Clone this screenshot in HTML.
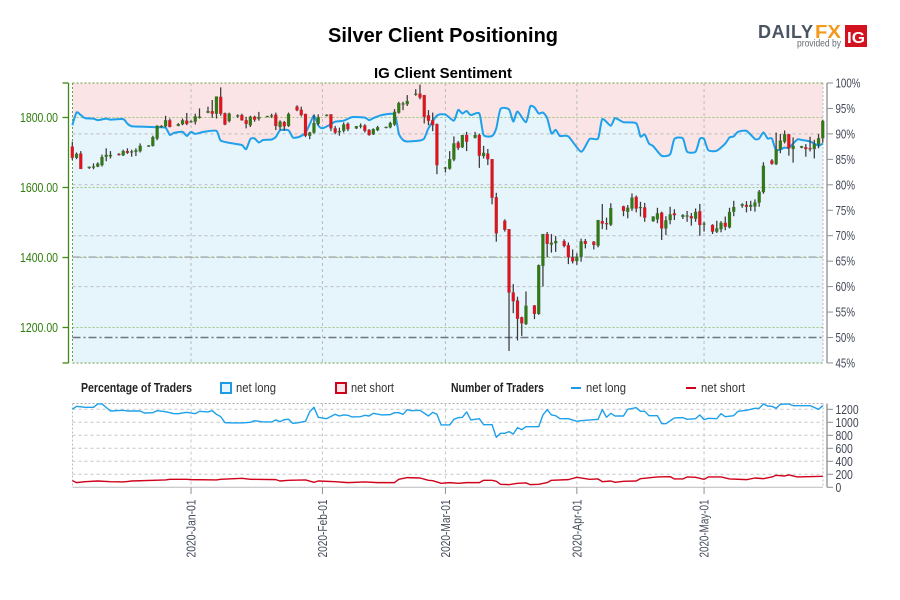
<!DOCTYPE html>
<html lang="en">
<head>
<meta charset="utf-8">
<title>Silver Client Positioning</title>
<style>
html,body{margin:0;padding:0;background:#fff;}
svg{display:block;font-family:"Liberation Sans",sans-serif;}
</style>
</head>
<body>
<svg id="chart" xmlns="http://www.w3.org/2000/svg" width="900" height="600" viewBox="0 0 900 600">
  <rect x="0" y="0" width="900" height="600" fill="#ffffff"/>
  <text x="328" y="42" font-size="20" font-weight="bold" fill="#000" textLength="230" lengthAdjust="spacingAndGlyphs">Silver Client Positioning</text>
  <text x="374" y="78" font-size="15" font-weight="bold" fill="#000" textLength="138" lengthAdjust="spacingAndGlyphs">IG Client Sentiment</text>

  <g>
    <text x="758" y="38" font-size="18" font-weight="bold" fill="#4a5361" textLength="55" lengthAdjust="spacing">DAILY</text>
    <text x="815" y="38" font-size="18" font-weight="bold" fill="#f39a1e" textLength="26" lengthAdjust="spacingAndGlyphs">FX</text>
    <text x="797" y="46.5" font-size="10" fill="#666c75" textLength="44" lengthAdjust="spacingAndGlyphs">provided by</text>
    <rect x="845" y="25" width="22" height="22" fill="#d2121e"/>
    <text x="847" y="43" font-size="16" font-weight="bold" fill="#fff" textLength="18" lengthAdjust="spacingAndGlyphs">IG</text>
  </g>

  <g id="pricePanel"></g>
  <g id="countPanel"></g>

  <g>
    <text x="81" y="392" font-size="13" font-weight="bold" fill="#222" textLength="111" lengthAdjust="spacingAndGlyphs">Percentage of Traders</text>
    <rect x="221" y="383" width="10" height="10" fill="#e6f4fc" stroke="#1c9ce6" stroke-width="2"/>
    <text x="236" y="392" font-size="13" fill="#333" textLength="40" lengthAdjust="spacingAndGlyphs">net long</text>
    <rect x="336" y="383" width="10" height="10" fill="#f8e6e8" stroke="#d0021b" stroke-width="2"/>
    <text x="351" y="392" font-size="13" fill="#333" textLength="43" lengthAdjust="spacingAndGlyphs">net short</text>
    <text x="451" y="392" font-size="13" font-weight="bold" fill="#222" textLength="93" lengthAdjust="spacingAndGlyphs">Number of Traders</text>
    <line x1="571" y1="388" x2="581" y2="388" stroke="#1c9ce6" stroke-width="2"/>
    <text x="586" y="392" font-size="13" fill="#333" textLength="40" lengthAdjust="spacingAndGlyphs">net long</text>
    <line x1="686" y1="388" x2="696" y2="388" stroke="#d0021b" stroke-width="2"/>
    <text x="701" y="392" font-size="13" fill="#333" textLength="44" lengthAdjust="spacingAndGlyphs">net short</text>
  </g>
</svg>

<script>
// ---- Data (day index 0 = 2019-12-04) ----
const candleDays = [0,1,2,4,5,6,7,8,9,11,12,13,14,15,16,18,19,20,21,22,23,25,26,27,28,29,30,32,33,34,35,36,37,39,40,41,42,43,44,46,47,48,49,50,51,53,54,55,56,57,58,60,61,62,63,64,65,67,68,69,70,71,72,74,75,76,77,78,79,81,82,83,84,85,86,88,89,90,91,92,93,95,96,97,98,99,100,102,103,104,105,106,107,109,110,111,112,113,114,116,117,118,119,120,121,123,124,125,126,127,130,131,132,133,134,135,137,138,139,140,141,142,144,145,146,147,148,149,151,152,153,154,155,156,158,159,160,161,162,163,165,166,167,168,169,170,172,173,174,175,176,177];
const openPrices = [1717,1685,1697,1656,1658,1660,1664,1688,1689,1696,1692,1704,1701,1702,1704,1717,1719,1740,1773,1775,1792,1776,1781,1791,1787,1788,1800,1814,1818,1811,1859,1812,1790,1804,1807,1792,1778,1802,1797,1802,1804,1808,1773,1787,1776,1831,1822,1810,1748,1757,1782,1805,1809,1769,1758,1762,1782,1769,1775,1777,1764,1752,1764,1771,1772,1780,1814,1838,1838,1867,1868,1864,1806,1792,1781,1655,1654,1680,1728,1715,1750,1742,1750,1690,1697,1681,1572,1505,1481,1300,1277,1229,1210,1263,1239,1376,1467,1437,1441,1447,1435,1401,1390,1402,1447,1445,1434,1504,1498,1494,1546,1531,1540,1573,1542,1543,1504,1509,1528,1483,1507,1526,1516,1518,1518,1511,1532,1495,1493,1474,1481,1499,1486,1531,1548,1550,1545,1546,1557,1587,1677,1667,1709,1731,1752,1710,1714,1715,1712,1710,1723,1741];
const closePrices = [1685,1696,1653,1659,1660,1668,1687,1693,1693,1693,1704,1699,1703,1706,1719,1720,1744,1776,1776,1792,1773,1781,1792,1782,1789,1803,1802,1818,1811,1860,1811,1780,1811,1806,1792,1782,1802,1794,1801,1804,1806,1776,1788,1775,1810,1821,1807,1748,1757,1784,1801,1808,1769,1757,1761,1780,1767,1775,1777,1762,1750,1767,1772,1773,1784,1816,1841,1840,1847,1868,1857,1802,1791,1778,1664,1657,1681,1726,1713,1750,1731,1750,1691,1699,1681,1571,1469,1479,1300,1275,1225,1212,1262,1239,1378,1467,1439,1442,1447,1433,1401,1389,1402,1446,1439,1436,1507,1497,1495,1541,1533,1542,1571,1540,1544,1514,1517,1526,1483,1506,1523,1521,1521,1520,1512,1530,1493,1497,1474,1483,1499,1488,1530,1544,1552,1545,1550,1557,1588,1662,1668,1709,1734,1752,1712,1719,1718,1710,1710,1724,1741,1790];
const highPrices = [1731,1700,1704,1660,1669,1672,1694,1712,1704,1698,1708,1712,1708,1712,1726,1721,1748,1778,1778,1805,1797,1784,1797,1813,1792,1811,1826,1831,1850,1860,1886,1814,1814,1809,1811,1802,1805,1805,1816,1805,1811,1814,1792,1790,1814,1835,1831,1811,1759,1809,1809,1809,1809,1776,1771,1786,1786,1776,1783,1781,1767,1769,1776,1774,1788,1824,1845,1845,1864,1881,1894,1864,1821,1814,1783,1659,1704,1746,1733,1750,1759,1759,1754,1719,1710,1681,1585,1509,1481,1324,1288,1231,1303,1264,1380,1467,1473,1467,1461,1452,1443,1423,1412,1454,1453,1447,1507,1553,1514,1555,1548,1550,1583,1577,1559,1556,1518,1542,1531,1518,1545,1538,1524,1533,1527,1540,1553,1502,1495,1505,1504,1517,1542,1562,1555,1561,1562,1566,1593,1672,1681,1757,1753,1763,1753,1743,1719,1724,1745,1736,1753,1793];
const lowPrices = [1678,1681,1653,1653,1652,1658,1660,1675,1683,1691,1690,1696,1688,1690,1700,1716,1717,1735,1771,1772,1772,1775,1778,1778,1785,1780,1797,1812,1799,1797,1805,1778,1786,1799,1791,1769,1773,1788,1791,1801,1799,1764,1764,1762,1773,1818,1803,1744,1738,1754,1778,1803,1761,1752,1748,1757,1761,1767,1769,1757,1748,1750,1761,1769,1769,1776,1811,1821,1833,1862,1852,1783,1778,1761,1638,1643,1651,1675,1707,1713,1704,1740,1656,1683,1664,1552,1445,1474,1133,1241,1163,1176,1207,1224,1236,1317,1401,1414,1416,1429,1381,1383,1379,1388,1426,1423,1429,1481,1479,1490,1518,1512,1533,1529,1517,1502,1502,1498,1450,1464,1495,1507,1510,1502,1491,1502,1462,1474,1467,1470,1472,1478,1483,1518,1542,1529,1533,1531,1545,1582,1665,1664,1698,1726,1691,1671,1712,1688,1703,1683,1712,1728];

const sentimentDays = [0,1,2,3,5,6,8,9,12,13,14,17,20,22,23,24,26,27,28,29,31,34,35,38,40,41,42,43,44,45,47,48,49,51,52,53,54,55,56,57,58,59,61,62,64,66,69,70,71,73,76,77,78,79,82,83,84,86,88,90,91,92,93,94,96,97,99,100,101,103,104,105,107,108,109,110,111,112,113,114,115,117,120,122,124,125,127,128,130,133,134,135,136,137,139,141,142,144,145,147,148,149,150,152,154,155,156,157,159,161,162,163,164,165,166,168,169,171,172,174,176,177];
const sentimentLongPct = [91.7,94.2,93.7,93.1,93.0,92.7,93.0,92.8,92.9,92.0,91.5,91.4,91.3,91.2,89.8,90.2,90.4,89.6,90.4,90.0,90.4,90.6,88.7,88.1,87.8,87.0,89.0,89.1,88.3,88.8,88.9,89.4,90.7,90.7,89.3,89.3,89.6,90.2,91.9,93.6,91.7,91.1,91.9,92.4,92.6,93.3,93.2,92.7,93.1,93.7,93.8,90.1,88.8,88.5,88.7,89.1,91.1,93.6,93.8,92.6,94.7,94.0,94.5,93.7,94.0,89.8,89.6,91.1,94.9,94.8,92.4,94.4,92.3,95.4,95.2,94.0,94.2,93.1,90.1,90.8,89.6,89.5,86.5,89.0,89.1,92.9,91.6,93.1,92.3,92.1,89.5,89.9,88.1,87.6,85.7,86.0,89.0,89.1,86.5,86.5,89.0,89.0,86.8,86.7,88.1,89.3,89.5,90.4,90.6,89.0,89.1,90.3,89.1,89.1,86.8,87.3,87.3,88.9,88.8,88.5,87.7,88.1];

const longCountDays = [0,1,3,5,6,7,9,12,13,16,17,19,20,22,24,25,27,29,30,32,33,34,35,36,38,40,42,43,45,47,48,49,50,51,52,53,55,56,57,58,60,62,63,64,65,66,68,69,70,71,73,75,76,77,78,79,80,82,84,85,86,87,89,90,91,92,93,94,96,97,99,100,101,102,103,104,105,106,107,110,111,112,113,114,115,117,119,120,124,125,126,127,128,130,131,133,134,135,136,138,139,140,142,144,145,147,148,149,150,152,153,154,156,157,159,161,162,163,164,165,166,167,169,170,174,176,177];
const longCounts = [1200,1246,1231,1231,1282,1282,1174,1184,1174,1174,1143,1148,1179,1164,1133,1133,1154,1133,1169,1159,1179,1123,1087,995,990,990,1000,1025,1005,1005,1036,1010,1041,1046,984,990,1015,1164,1231,1077,1056,1123,1097,1113,1108,1082,1087,1108,1097,1138,1113,1118,1148,1148,1123,1195,1179,1184,1097,1154,1123,959,959,1046,1072,1077,1159,1036,1056,964,964,769,831,831,856,820,918,887,933,933,1113,1195,1113,1102,1056,1056,1015,1025,1046,1195,1077,1138,1097,1097,1200,1225,1169,1169,1102,1102,979,979,1067,1072,1046,1056,1113,1041,1061,1056,1133,1087,1102,1169,1184,1215,1215,1282,1251,1246,1215,1277,1282,1256,1256,1200,1256];

const shortCountDays = [0,1,3,6,9,12,14,22,23,27,28,34,35,40,42,48,49,51,55,57,58,62,65,69,72,76,77,79,82,84,85,87,89,91,93,96,97,99,100,101,103,105,107,108,110,112,113,117,119,122,124,125,127,128,130,133,134,138,141,142,144,145,147,149,150,153,155,159,161,163,165,166,168,169,171,177];
const shortCounts = [102,72,87,97,87,82,97,113,123,123,118,113,123,138,123,118,97,108,113,77,97,87,72,82,72,72,123,149,143,108,102,61,72,61,72,72,108,108,92,46,41,61,67,41,46,72,108,118,154,123,128,87,97,77,92,97,133,159,164,128,128,159,154,123,159,159,128,118,143,133,159,185,174,190,159,169];

const priceTicks = [1800,1600,1400,1200];
const pctTicks = [100,95,90,85,80,75,70,65,60,55,50,45];
const pctGridLevels = [90,80,70,60];
const countTicks = [1200,1000,800,600,400,200,0];
const monthDays = [28,59,88,119,149];
const monthLabels = ['2020-Jan-01','2020-Feb-01','2020-Mar-01','2020-Apr-01','2020-May-01'];
const dashDotPctLevels = [65.8,50];

// ---- Axis functions ----
const NS = 'http://www.w3.org/2000/svg';
const xDay = d => 72.3 + 4.24 * d;
const yPrice = p => 117.5 + (1800 - p) * 0.35;
const yPct = p => 83 + (100 - p) * 5.09;
const yCount = c => 487.3 - c * 0.065;
const PANEL_LEFT = 72.5, PANEL_RIGHT = 823, PANEL_TOP = 83, PANEL_BOTTOM = 363;
const COUNT_TOP = 403.5, COUNT_BOTTOM = 487.3;
const pricePanel = document.getElementById('pricePanel');
const countPanel = document.getElementById('countPanel');

function shape(parent, tag, props) {
  const el = document.createElementNS(NS, tag);
  for (const k in props) el.setAttribute(k, props[k]);
  parent.appendChild(el);
  return el;
}
function smoothPath(xs, ys) {
  let d = 'M' + xs[0].toFixed(2) + ' ' + ys[0].toFixed(2);
  for (let i = 0; i < xs.length - 1; i++) {
    const x0 = xs[Math.max(i - 1, 0)], y0 = ys[Math.max(i - 1, 0)];
    const x1 = xs[i], y1 = ys[i], x2 = xs[i + 1], y2 = ys[i + 1];
    const x3 = xs[Math.min(i + 2, xs.length - 1)], y3 = ys[Math.min(i + 2, xs.length - 1)];
    d += 'C' + (x1 + (x2 - x0) / 9).toFixed(2) + ' ' + (y1 + (y2 - y0) / 9).toFixed(2) + ' ' +
         (x2 - (x3 - x1) / 9).toFixed(2) + ' ' + (y2 - (y3 - y1) / 9).toFixed(2) + ' ' +
         x2.toFixed(2) + ' ' + y2.toFixed(2);
  }
  return d;
}
function polyPath(xs, ys) {
  return xs.map((x, i) => (i ? 'L' : 'M') + x.toFixed(2) + ' ' + ys[i].toFixed(2)).join('');
}

// ---- Price panel backgrounds ----
const shortZone = shape(pricePanel, 'rect', {x: PANEL_LEFT, y: PANEL_TOP, width: PANEL_RIGHT - PANEL_LEFT, height: PANEL_BOTTOM - PANEL_TOP, fill: '#fbe4e5'});



const sentXs = sentimentDays.map(xDay);
const sentYs = sentimentLongPct.map(yPct);
const sentCurve = smoothPath(sentXs, sentYs);
const longZone = shape(pricePanel, 'path', {
  d: sentCurve + 'L' + sentXs[sentXs.length - 1].toFixed(2) + ' ' + PANEL_BOTTOM + 'L' + sentXs[0].toFixed(2) + ' ' + PANEL_BOTTOM + 'Z',
  fill: '#e6f4fc'
});



// ---- Price panel grid ----
pctGridLevels.forEach(p => {
  const g = shape(pricePanel, 'line', {x1: PANEL_LEFT, x2: PANEL_RIGHT, y1: yPct(p), y2: yPct(p), stroke: '#b9bcbf', 'stroke-width': 1, 'stroke-dasharray': '3 3'});
  
  
});
[yPct(100), yPct(45)].forEach(y => {
  const g = shape(pricePanel, 'line', {x1: PANEL_LEFT, x2: PANEL_RIGHT, y1: y, y2: y, stroke: '#6f9a45', 'stroke-width': 1, 'stroke-dasharray': '2 2'});
  
  
});
priceTicks.forEach(p => {
  const g = shape(pricePanel, 'line', {x1: PANEL_LEFT, x2: PANEL_RIGHT, y1: yPrice(p), y2: yPrice(p), stroke: '#9cc47c', 'stroke-width': 1, 'stroke-dasharray': '2 2'});
  
  
});
monthDays.forEach(d => {
  const g = shape(pricePanel, 'line', {x1: xDay(d), x2: xDay(d), y1: PANEL_TOP, y2: PANEL_BOTTOM, stroke: '#b9bcbf', 'stroke-width': 1, 'stroke-dasharray': '3 3'});
  
  
});
const leftBorder = shape(pricePanel, 'line', {x1: PANEL_LEFT, x2: PANEL_LEFT, y1: PANEL_TOP, y2: PANEL_BOTTOM, stroke: '#6f9a45', 'stroke-width': 1, 'stroke-dasharray': '2 2'});


const rightBorder = shape(pricePanel, 'line', {x1: PANEL_RIGHT, x2: PANEL_RIGHT, y1: PANEL_TOP, y2: PANEL_BOTTOM, stroke: '#b9bcbf', 'stroke-width': 1, 'stroke-dasharray': '2 2'});



dashDotPctLevels.forEach((p, i) => {
  const g = shape(pricePanel, 'line', {x1: PANEL_LEFT, x2: PANEL_RIGHT, y1: yPct(p), y2: yPct(p), stroke: i ? '#6b7480' : '#a6abb0', 'stroke-width': i ? 1.6 : 1.3, 'stroke-dasharray': '8 3 2 3'});
  
  
});

// ---- Sentiment line ----
const sentLine = shape(pricePanel, 'path', {d: sentCurve, fill: 'none', stroke: '#1ea0ea', 'stroke-width': 2, 'stroke-linejoin': 'round'});



// ---- Candles ----
candleDays.forEach((d, i) => {
  const x = xDay(d);
  const up = closePrices[i] >= openPrices[i];
  const wick = shape(pricePanel, 'line', {x1: x, x2: x, y1: yPrice(highPrices[i]), y2: yPrice(lowPrices[i]), stroke: '#3a3a3a', 'stroke-width': 1.25});
  
  
  const top = yPrice(Math.max(openPrices[i], closePrices[i]));
  const bot = yPrice(Math.min(openPrices[i], closePrices[i]));
  const body = shape(pricePanel, 'rect', {x: x - 1.5, y: top, width: 3, height: Math.max(bot - top, 1), fill: up ? '#2f7a12' : '#e3121c', stroke: '#555', 'stroke-width': 0.3, 'stroke-opacity': 0.6});
  
  
});

// ---- Left price axis ----
const leftAxis = shape(pricePanel, 'line', {x1: 68.5, x2: 68.5, y1: PANEL_TOP, y2: PANEL_BOTTOM, stroke: '#3f8a12', 'stroke-width': 1.3});


[PANEL_TOP, PANEL_BOTTOM].forEach(y => {
  const t = shape(pricePanel, 'line', {x1: 62.5, x2: 68.5, y1: y, y2: y, stroke: '#3f8a12', 'stroke-width': 1.3});
  
  
});
priceTicks.forEach(p => {
  const t = shape(pricePanel, 'line', {x1: 62.5, x2: 68.5, y1: yPrice(p), y2: yPrice(p), stroke: '#3f8a12', 'stroke-width': 1.3});
  
  
  const lbl = shape(pricePanel, 'text', {transform: 'translate(20,' + (yPrice(p) + 4.5) + ') scale(.81,1)', 'font-size': 13, fill: '#2f7d0c'});
  
  
  lbl.textContent = p.toFixed(2);
});

// ---- Right percent axis ----
const pctAxis = shape(pricePanel, 'line', {x1: 827, x2: 827, y1: PANEL_TOP, y2: PANEL_BOTTOM, stroke: '#b3b5b8', 'stroke-width': 2});


pctTicks.forEach(p => {
  const t = shape(pricePanel, 'line', {x1: 827, x2: 833, y1: yPct(p), y2: yPct(p), stroke: '#8b8e92', 'stroke-width': 1});
  
  
  const lbl = shape(pricePanel, 'text', {transform: 'translate(835.5,' + (yPct(p) + 4.5) + ') scale(.75,1)', 'font-size': 13, fill: '#3f4654'});
  
  
  lbl.textContent = p + '%';
});

// ---- Count panel ----
countTicks.slice(0, 6).forEach(c => {
  const g = shape(countPanel, 'line', {x1: PANEL_LEFT, x2: PANEL_RIGHT, y1: yCount(c), y2: yCount(c), stroke: '#c3c5c8', 'stroke-width': 1, 'stroke-dasharray': '3 3'});
  
  
});
const countTop = shape(countPanel, 'line', {x1: PANEL_LEFT, x2: PANEL_RIGHT, y1: COUNT_TOP, y2: COUNT_TOP, stroke: '#a9acaf', 'stroke-width': 1, 'stroke-dasharray': '2 2'});


const countBottom = shape(countPanel, 'line', {x1: PANEL_LEFT, x2: PANEL_RIGHT, y1: COUNT_BOTTOM, y2: COUNT_BOTTOM, stroke: '#b9bbbe', 'stroke-width': 1});


[PANEL_LEFT, PANEL_RIGHT].forEach(x => {
  const g = shape(countPanel, 'line', {x1: x, x2: x, y1: COUNT_TOP, y2: COUNT_BOTTOM, stroke: '#b9bcbf', 'stroke-width': 1, 'stroke-dasharray': '2 2'});
  
  
});
monthDays.forEach((d, i) => {
  const g = shape(countPanel, 'line', {x1: xDay(d), x2: xDay(d), y1: COUNT_TOP, y2: COUNT_BOTTOM, stroke: '#c3c5c8', 'stroke-width': 1, 'stroke-dasharray': '3 3'});
  
  
  const t = shape(countPanel, 'line', {x1: xDay(d), x2: xDay(d), y1: COUNT_BOTTOM, y2: 494, stroke: '#8b8e92', 'stroke-width': 1});
  
  
  const lbl = shape(countPanel, 'text', {transform: 'translate(' + (xDay(d) + 4.5) + ',557.5) rotate(-90)', 'font-size': 13, fill: '#444c5c', textLength: 58, lengthAdjust: 'spacingAndGlyphs'});
  
  
  lbl.textContent = monthLabels[i];
});
const longLine = shape(countPanel, 'path', {d: polyPath(longCountDays.map(xDay), longCounts.map(yCount)), fill: 'none', stroke: '#1ea0ea', 'stroke-width': 1.4, 'stroke-linejoin': 'round'});


const shortLine = shape(countPanel, 'path', {d: polyPath(shortCountDays.map(xDay), shortCounts.map(yCount)), fill: 'none', stroke: '#d0021b', 'stroke-width': 1.4, 'stroke-linejoin': 'round'});


const countAxis = shape(countPanel, 'line', {x1: 827, x2: 827, y1: COUNT_TOP, y2: COUNT_BOTTOM, stroke: '#b3b5b8', 'stroke-width': 2});


countTicks.forEach(c => {
  const t = shape(countPanel, 'line', {x1: 827, x2: 833, y1: yCount(c), y2: yCount(c), stroke: '#8b8e92', 'stroke-width': 1});
  
  
  const lbl = shape(countPanel, 'text', {transform: 'translate(835.5,' + (yCount(c) + 4.5) + ') scale(.8,1)', 'font-size': 13, fill: '#3f4654'});
  
  
  lbl.textContent = c;
});
</script>
</body>
</html>
